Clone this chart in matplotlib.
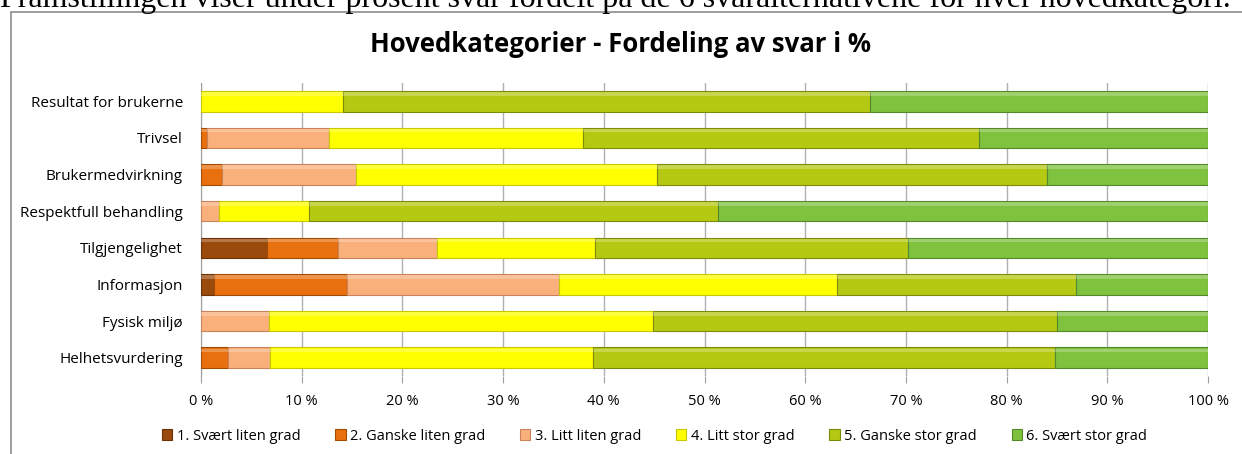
import matplotlib
matplotlib.use('Agg')
import matplotlib.pyplot as plt
from matplotlib.patches import Rectangle
import numpy as np

categories = ['Resultat for brukerne', 'Trivsel', 'Brukermedvirkning', 'Respektfull behandling',
              'Tilgjengelighet', 'Informasjon', 'Fysisk miljø', 'Helhetsvurdering']
series = ['1. Svært liten grad', '2. Ganske liten grad', '3. Litt liten grad',
          '4. Litt stor grad', '5. Ganske stor grad', '6. Svært stor grad']

# percent per category, one list per answer alternative
svaert_liten = [0.0, 0.0, 0.0, 0.0, 6.6, 1.3, 0.0, 0.0]
ganske_liten = [0.0, 0.6, 2.1, 0.0, 7.0, 13.2, 0.0, 2.7]
litt_liten = [0.0, 12.1, 13.3, 1.8, 9.8, 21.1, 6.8, 4.2]
litt_stor = [14.1, 25.2, 29.9, 8.9, 15.7, 27.6, 38.1, 32.0]
ganske_stor = [52.3, 39.4, 38.7, 40.6, 31.1, 23.7, 40.1, 45.9]
svaert_stor = [33.6, 22.7, 16.0, 48.7, 29.8, 13.1, 15.0, 15.2]

colors = ['#9a4a0c', '#e8700e', '#f9b07a', '#ffff00', '#b6c912', '#7ec23e']
edges = ['#6b3207', '#a04c06', '#c8835a', '#c8c800', '#7d8a0b', '#55882a']

fig = plt.figure(figsize=(12.42, 4.54), dpi=100)
ax = fig.add_axes([201 / 1242, 1 - 376 / 454, 1007 / 1242, 293 / 454])

data = [svaert_liten, ganske_liten, litt_liten, litt_stor, ganske_stor, svaert_stor]
y = np.arange(len(categories))
left = np.zeros(len(categories))
for vals, name, c, ec in zip(data, series, colors, edges):
    vals = np.array(vals)
    ax.barh(y, vals, left=left, height=0.56, color=c, edgecolor=ec, linewidth=0.8, label=name, zorder=3)
    # light strip on top of each segment for the glossy look
    ax.barh(y - 0.2, vals, left=left, height=0.1, color='white', alpha=0.25, linewidth=0, zorder=4)
    left += vals

ax.set_xlim(0, 100)
ax.set_ylim(len(categories) - 0.5, -0.5)
ax.set_yticks(y)
ax.set_yticklabels(categories, fontsize=11, family='Open Sans')
ax.set_xticks(np.arange(0, 101, 10))
ax.set_xticklabels(['%d %%' % v for v in range(0, 101, 10)], fontsize=10.5, family='Open Sans')
ax.tick_params(axis='y', length=0, pad=13)
ax.tick_params(axis='x', length=5, color='#a0a0a0', pad=8)
ax.grid(axis='x', color='#b0b0b0', linewidth=1, zorder=0)
for s in ['top', 'right']:
    ax.spines[s].set_visible(False)
ax.spines['left'].set_color('#a0a0a0')
ax.spines['bottom'].set_visible(False)

fig.text(0.5, 1 - 45 / 454, 'Hovedkategorier - Fordeling av svar i %', ha='center', va='center',
         fontsize=18.5, fontweight='bold', family='Open Sans')
fig.text(0.0, 1 - 7 / 454, 'Framstillingen viser under prosent svar fordelt på de 6 svaralternativene for hver hovedkategori.',
         ha='left', va='baseline', fontsize=23, family='Liberation Serif')

# chart frame, runs past the right and bottom edges as in the screenshot
fig.patches.append(Rectangle((11 / 1242, -0.05), 1.0, 1 - 12 / 454 + 0.05, transform=fig.transFigure,
                             fill=False, edgecolor='#8c8c8c', linewidth=1.2))

leg = fig.legend(loc='center', bbox_to_anchor=(0.527, 1 - 436 / 454), ncol=6, frameon=False,
                 prop={'family': 'Open Sans', 'size': 10.5}, handlelength=0.7, handleheight=0.7,
                 handletextpad=0.3, columnspacing=2.4)

fig.savefig('out.png', dpi=100)
